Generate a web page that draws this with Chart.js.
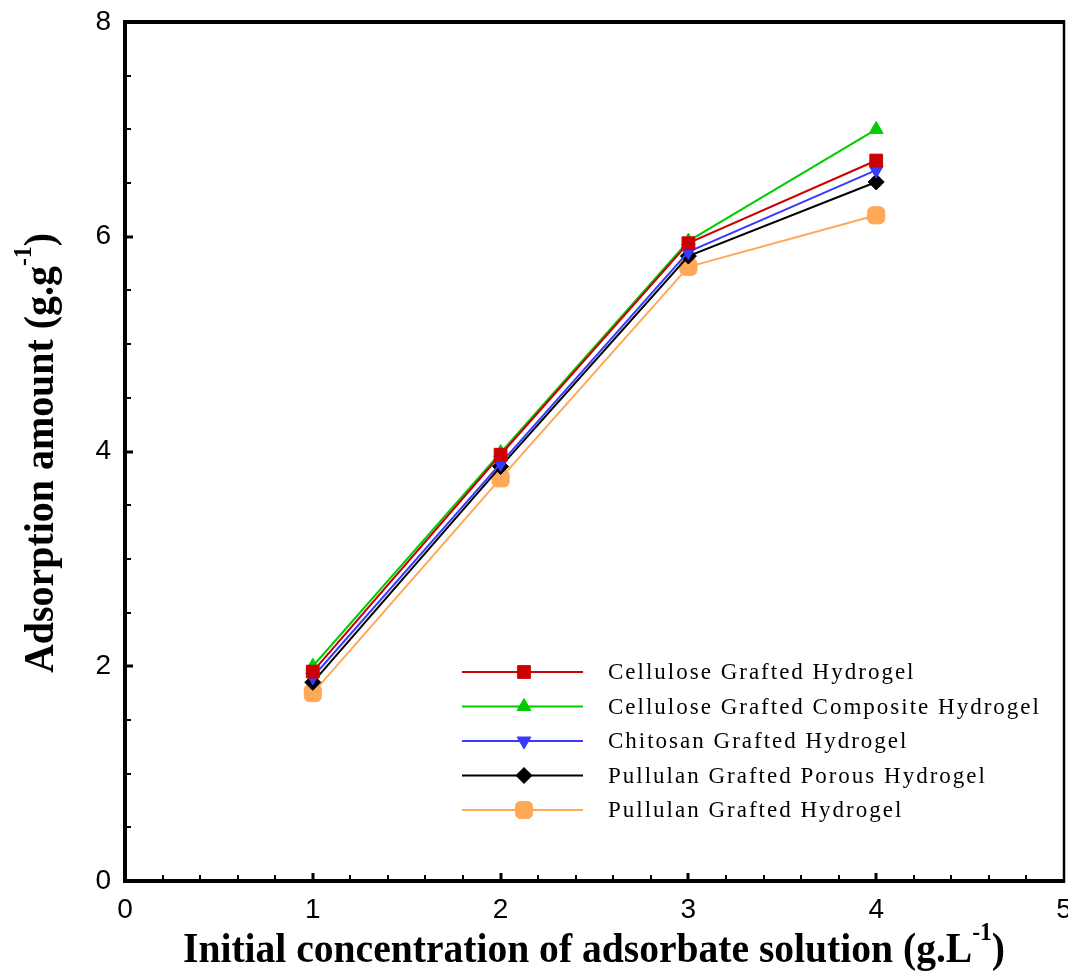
<!DOCTYPE html>
<html>
<head>
<meta charset="utf-8">
<title>Adsorption amount vs initial concentration</title>
<script src="https://cdn.jsdelivr.net/npm/chart.js@4.4.1/dist/chart.umd.min.js"></script>
<style>
  html, body { margin: 0; padding: 0; background: #fff; }
  #wrap { width: 1068px; height: 974px; }
</style>
</head>
<body>
<div id="wrap"><canvas id="chart" width="1068" height="974"></canvas></div>
<script>
'use strict';

// concentrations (g/L) and adsorption amounts (g/g) per hydrogel
const concentrations = [1, 2, 3, 4];
const celluloseGrafted = [1.95, 3.97, 5.94, 6.71];
const celluloseComposite = [2.0, 3.99, 5.96, 7.0];
const chitosanGrafted = [1.90, 3.89, 5.86, 6.62];
const pullulanPorous = [1.85, 3.86, 5.82, 6.51];
const pullulanGrafted = [1.75, 3.75, 5.72, 6.20];

const seriesNames = [
    'Cellulose Grafted Hydrogel',
    'Cellulose Grafted Composite Hydrogel',
    'Chitosan Grafted Hydrogel',
    'Pullulan Grafted Porous Hydrogel',
    'Pullulan Grafted Hydrogel'
];

const xTicks = [0, 1, 2, 3, 4, 5];
const yTicks = [0, 2, 4, 6, 8];

const toPoints = vals => vals.map((v, i) => ({ x: concentrations[i], y: v }));

function makeSet(label, values, color, style, radius, rotation) {
    return {
        label: label,
        data: toPoints(values),
        borderColor: color,
        backgroundColor: color,
        pointBackgroundColor: color,
        pointBorderColor: color,
        borderWidth: 2,
        pointStyle: style,
        pointRadius: radius,
        pointHoverRadius: radius,
        pointRotation: rotation || 0,
        pointBorderWidth: 1,
        tension: 0
    };
}

const datasets = [
    makeSet(seriesNames[0], celluloseGrafted, '#cc0000', 'rect', 9),
    makeSet(seriesNames[1], celluloseComposite, '#00cc00', 'triangle', 8),
    makeSet(seriesNames[2], chitosanGrafted, '#3a3aff', 'triangle', 8, 180),
    makeSet(seriesNames[3], pullulanPorous, '#000000', 'rectRot', 8),
    makeSet(seriesNames[4], pullulanGrafted, '#ffa858', 'rectRounded', 10)
];

const SERIF = "'Liberation Serif', 'Times New Roman', serif";
const SANS = "'Liberation Sans Narrow', 'Liberation Sans', Arial, sans-serif";

// text with superscript parts, squeezed to a given width
function drawRichText(ctx, parts, cx, cy, size, width) {
    const base = 'bold ' + size + 'px ' + SERIF;
    const sup = 'bold ' + Math.round(size * 0.6) + 'px ' + SERIF;
    let total = 0;
    parts.forEach(p => {
        ctx.font = p.sup ? sup : base;
        p.w = ctx.measureText(p.t).width;
        total += p.w;
    });
    const sx = width / total;
    ctx.save();
    ctx.translate(cx, cy);
    ctx.scale(sx, 1);
    ctx.fillStyle = '#000';
    ctx.textBaseline = 'middle';
    ctx.textAlign = 'left';
    let x = -total / 2;
    parts.forEach(p => {
        ctx.font = p.sup ? sup : base;
        ctx.fillText(p.t, x, p.sup ? -size * 0.42 : 0);
        x += p.w;
    });
    ctx.restore();
}

// frame, inward ticks on left/bottom and axis titles
const framePlugin = {
    id: 'frame',
    afterDraw(chart) {
        const { ctx, chartArea: a, scales } = chart;
        ctx.save();
        ctx.strokeStyle = '#000';
        ctx.lineWidth = 2;
        const xs = scales.x, ys = scales.y;
        for (let v = 0.2; v <= 4.9; v += 0.2) {
            const px = Math.round(xs.getPixelForValue(v));
            const major = Math.abs(v - Math.round(v)) < 1e-6;
            ctx.lineWidth = major ? 3 : 2;
            ctx.beginPath();
            ctx.moveTo(px, a.bottom); ctx.lineTo(px, a.bottom - (major ? 8 : 6));
            ctx.stroke();
        }
        for (let v = 0.5; v <= 7.6; v += 0.5) {
            const py = Math.round(ys.getPixelForValue(v));
            const major = Math.abs(v / 2 - Math.round(v / 2)) < 1e-6;
            ctx.lineWidth = major ? 3 : 2;
            ctx.beginPath();
            ctx.moveTo(a.left, py); ctx.lineTo(a.left + (major ? 8 : 6), py);
            ctx.stroke();
        }
        // heavy left/top/bottom, lighter right edge
        ctx.lineWidth = 4;
        ctx.beginPath();
        ctx.moveTo(a.right, a.top);
        ctx.lineTo(a.left, a.top);
        ctx.lineTo(a.left, a.bottom);
        ctx.lineTo(a.right, a.bottom);
        ctx.stroke();
        ctx.lineWidth = 2.5;
        ctx.beginPath();
        ctx.moveTo(a.right, a.top - 2);
        ctx.lineTo(a.right, a.bottom + 2);
        ctx.stroke();
        ctx.restore();

        drawRichText(ctx, [
            { t: 'Initial concentration of adsorbate solution (g.L' },
            { t: '-1', sup: true },
            { t: ')' }
        ], 594, 951, 42, 822);

        ctx.save();
        ctx.translate(42, 453);
        ctx.rotate(-Math.PI / 2);
        drawRichText(ctx, [
            { t: 'Adsorption amount (g.g' },
            { t: '-1', sup: true },
            { t: ')' }
        ], 0, 0, 42, 440);
        ctx.restore();
    }
};

// legend box inside the plot
const legendPlugin = {
    id: 'innerLegend',
    afterDraw(chart) {
        const ctx = chart.ctx;
        const x0 = 462, x1 = 583, mx = 524, tx = 608, y0 = 672, step = 34.5;
        chart.data.datasets.forEach((ds, i) => {
            const y = y0 + i * step;
            ctx.save();
            ctx.strokeStyle = ds.borderColor;
            ctx.lineWidth = 2;
            ctx.beginPath();
            ctx.moveTo(x0, y); ctx.lineTo(x1, y);
            ctx.stroke();
            ctx.fillStyle = ds.pointBackgroundColor;
            ctx.strokeStyle = ds.pointBorderColor;
            ctx.lineWidth = 1;
            Chart.helpers.drawPoint(ctx, {
                pointStyle: ds.pointStyle,
                radius: ds.pointRadius,
                rotation: ds.pointRotation,
                borderWidth: 1
            }, mx, y);
            ctx.fillStyle = '#000';
            ctx.font = '23px ' + SERIF;
            ctx.letterSpacing = '2px';
            ctx.textBaseline = 'middle';
            ctx.fillText(ds.label, tx, y + 1);
            ctx.restore();
        });
    }
};

new Chart(document.getElementById('chart'), {
    type: 'line',
    data: { datasets: datasets },
    options: {
        responsive: false,
        animation: false,
        layout: { autoPadding: false, padding: { top: 22, right: 4, left: 0, bottom: 0 } },
        plugins: {
            legend: { display: false },
            tooltip: { enabled: false }
        },
        scales: {
            x: {
                type: 'linear',
                min: 0,
                max: 5,
                afterBuildTicks: s => { s.ticks = xTicks.map(v => ({ value: v })); },
                afterFit: s => { s.height = 93; s.paddingLeft = 0; s.paddingRight = 0; },
                grid: { display: false, drawTicks: false },
                border: { display: false },
                ticks: { color: '#000', padding: 12, font: { family: SANS, size: 28 } }
            },
            y: {
                type: 'linear',
                min: 0,
                max: 8,
                afterBuildTicks: s => { s.ticks = yTicks.map(v => ({ value: v })); },
                afterFit: s => { s.width = 125; s.paddingTop = 0; s.paddingBottom = 0; },
                grid: { display: false, drawTicks: false },
                border: { display: false },
                ticks: { color: '#000', padding: 14, font: { family: SANS, size: 28 } }
            }
        }
    },
    plugins: [framePlugin, legendPlugin]
});
</script>
</body>
</html>
